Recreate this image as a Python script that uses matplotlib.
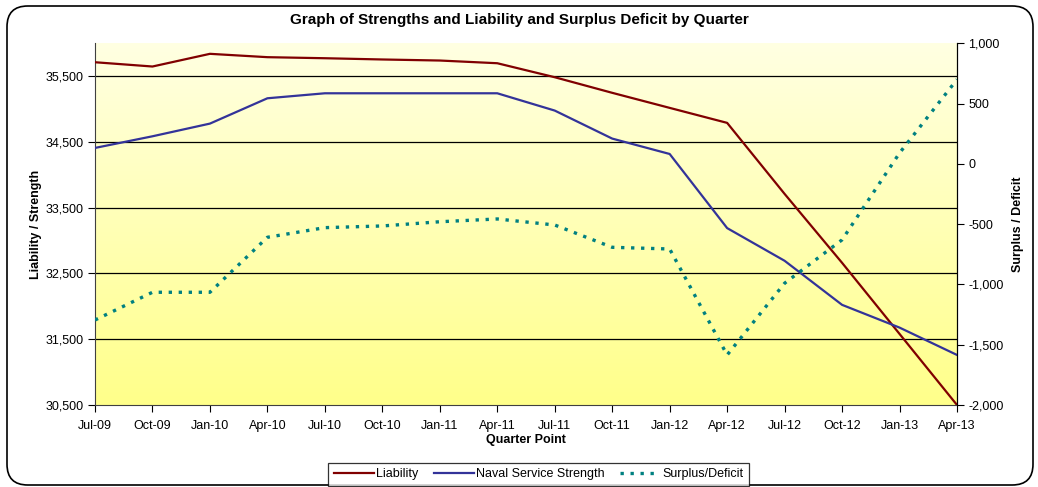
import matplotlib
matplotlib.use("Agg")
import matplotlib.pyplot as plt
import numpy as np
from matplotlib.patches import FancyBboxPatch
from matplotlib.lines import Line2D

quarters = ["Jul-09", "Oct-09", "Jan-10", "Apr-10", "Jul-10", "Oct-10", "Jan-11", "Apr-11",
            "Jul-11", "Oct-11", "Jan-12", "Apr-12", "Jul-12", "Oct-12", "Jan-13", "Apr-13"]
liability = [35712, 35647, 35840, 35789, 35773, 35754, 35738, 35697,
             35484, 35247, 35018, 34790, 33710, 32662, 31581, 30500]
naval_strength = [34409, 34586, 34779, 35164, 35240, 35240, 35240, 35240,
                  34977, 34551, 34317, 33190, 32693, 32023, 31677, 31261]
surplus_deficit = [-1295, -1065, -1065, -609, -529, -515, -480, -457,
                   -507, -692, -706, -1585, -990, -630, 90, 700]

left_ticks = [30500, 31500, 32500, 33500, 34500, 35500]
right_ticks = [-2000, -1500, -1000, -500, 0, 500, 1000]

plt.rcParams['font.family'] = ['Liberation Sans', 'DejaVu Sans']

W, H = 1038, 487
fig = plt.figure(figsize=(W / 100, H / 100), dpi=100)
fig.patch.set_facecolor('white')

# rounded outer frame
frame = FancyBboxPatch((7 / W, 2 / H), (1026 / W), (479 / H),
                       boxstyle="round,pad=0,rounding_size=0.02",
                       transform=fig.transFigure, fill=False,
                       edgecolor='black', linewidth=1.2, mutation_aspect=W / H)
fig.patches.append(frame)

left, right = 95 / W, 957 / W
bottom, top = 1 - 405 / H, 1 - 43.3 / H
ax = fig.add_axes([left, bottom, right - left, top - bottom])
ax2 = ax.twinx()

# gradient background
grad = np.linspace(0, 1, 256).reshape(-1, 1)
top_col = np.array([255, 255, 226]) / 255
bot_col = np.array([255, 255, 138]) / 255
img = top_col * (1 - grad[..., None]) + bot_col * grad[..., None]
img = img.reshape(256, 1, 3)
ax.imshow(img, extent=[0, 1, 0, 1], transform=ax.transAxes, aspect='auto', zorder=0)

x = np.arange(len(quarters))
ax.set_xlim(x[0], x[-1])
ax.set_ylim(30500, 36000)
ax.set_yticks(left_ticks)
ax.set_yticklabels([f"{v:,}" for v in left_ticks])
for yv in left_ticks[1:]:
    ax.axhline(yv, color='black', linewidth=0.9, zorder=1)

ax.plot(x, liability, color='#800000', linewidth=1.6, zorder=3, label='Liability')
ax.plot(x, naval_strength, color='#333399', linewidth=1.6, zorder=3, label='Naval Service Strength')

ax2.set_ylim(-2000, 1000)
ax2.set_yticks(right_ticks)
ax2.set_yticklabels([f"{v:,}" for v in right_ticks])
dot_style = (0, (1.0, 2.0))
ax2.plot(x, surplus_deficit, color='#008080', linewidth=2.4,
         linestyle=dot_style, zorder=3, label='Surplus/Deficit')

ax.set_xticks(x)
ax.set_xticklabels(quarters)

for a in (ax, ax2):
    a.spines['top'].set_visible(False)
    a.tick_params(direction='out', length=5, width=0.8, labelsize=9, colors='black')
ax.spines['left'].set_color('#404040')
ax.spines['bottom'].set_color('#404040')
ax2.spines['right'].set_color('black')
ax2.spines['left'].set_visible(False)
ax2.spines['bottom'].set_visible(False)
ax.tick_params(axis='x', pad=6)
ax.tick_params(axis='y', pad=3)
ax2.tick_params(axis='y', pad=3)

ax.set_xlabel("Quarter Point", fontsize=9, fontweight='bold', labelpad=1)
ax.set_ylabel("Liability / Strength", fontsize=9, fontweight='bold', labelpad=3)
ax2.set_ylabel("Surplus / Deficit", fontsize=9, fontweight='bold', labelpad=6)

fig.text(0.5, 1 - 20 / H, "Graph of Strengths and Liability and Surplus Deficit by Quarter",
         ha='center', va='center', fontsize=11, fontweight='bold')

handles = [Line2D([0], [0], color='#800000', linewidth=1.6),
           Line2D([0], [0], color='#333399', linewidth=1.6),
           Line2D([0], [0], color='#008080', linewidth=2.4, linestyle=dot_style)]
labels = ['Liability', 'Naval Service Strength', 'Surplus/Deficit']
leg = fig.legend(handles, labels, loc='lower center', bbox_to_anchor=(538.5 / W, 1 / H),
                 ncol=3, fontsize=9, frameon=True, fancybox=False, edgecolor='black',
                 handlelength=3.2, handletextpad=0.2, columnspacing=1.2,
                 borderpad=0.45, borderaxespad=0)
leg.get_frame().set_linewidth(0.9)

fig.savefig("out.png", dpi=100)
